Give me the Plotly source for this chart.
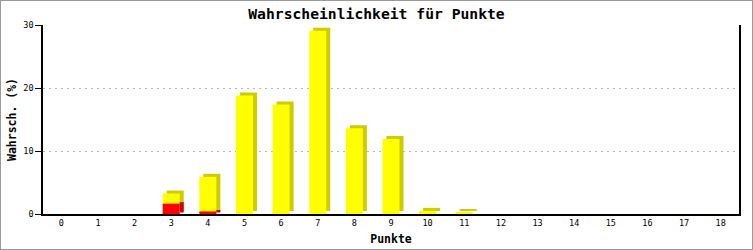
import plotly.graph_objects as go

points = list(range(19))
tick_labels = [str(p) for p in points]
total_pct = [0, 0, 0, 3.25, 5.9, 18.8, 17.4, 29.1, 13.6, 11.9, 0.5, 0.3, 0, 0, 0, 0, 0, 0, 0]
red_pct = [0, 0, 0, 1.65, 0.4, 0, 0, 0, 0, 0, 0, 0, 0, 0, 0, 0, 0, 0, 0]
y_ticks = [0, 10, 20, 30]

W, H = 753, 250
ml, mr, mt, mb = 43, 14, 25, 36
plot_w = W - ml - mr
plot_h = H - mt - mb
x_unit = plot_w / 19.0
y_unit = plot_h / 30.0
bar_w = 17 / x_unit
dx = 4 / x_unit
dy = 3 / y_unit


def nz(vals):
    return [v if v > 0 else None for v in vals]


fig = go.Figure()
# yellow: shadow block (top + side faces) then front
fig.add_trace(go.Bar(x=points, y=nz(total_pct), base=dy, width=bar_w, offset=-bar_w / 2 + dx,
                     marker=dict(color="#cccc00", line=dict(width=0)), showlegend=False,
                     hoverinfo="skip"))
fig.add_trace(go.Bar(x=points, y=nz(total_pct), width=bar_w, offset=-bar_w / 2,
                     marker=dict(color="#ffff00", line=dict(width=0)), showlegend=False))
# red: side face strip then front
fig.add_trace(go.Bar(x=points, y=nz(red_pct), base=dy / 2, width=dx, offset=bar_w / 2,
                     marker=dict(color="#cc0000", line=dict(width=0)), showlegend=False,
                     hoverinfo="skip"))
fig.add_trace(go.Bar(x=points, y=nz(red_pct), width=bar_w, offset=-bar_w / 2,
                     marker=dict(color="#ff0000", line=dict(width=0)), showlegend=False))

mono = "DejaVu Sans Mono"
fig.update_layout(
    width=W, height=H,
    margin=dict(l=ml, r=mr, t=mt, b=mb, autoexpand=False),
    paper_bgcolor="white", plot_bgcolor="white",
    barmode="overlay",
    title=dict(text="<b>Wahrscheinlichkeit für Punkte</b>", x=0.5, xanchor="center",
               y=1 - 13.5 / H, yanchor="middle", font=dict(family=mono, size=14.7, color="black")),
    xaxis=dict(range=[-0.5, 18.5], tickmode="array", tickvals=points, ticktext=tick_labels,
               showgrid=False, zeroline=False, showline=True, linecolor="black", linewidth=1.5,
               ticks="", automargin=False, tickfont=dict(family=mono, size=8.5, color="black"),
               title=dict(text="<b>Punkte</b>", font=dict(family=mono, size=11.5, color="black"),
                          standoff=8)),
    yaxis=dict(range=[0, 30], tickmode="array", tickvals=y_ticks, showgrid=True,
               gridcolor="#b8b8b8", griddash="2px,4px", gridwidth=1,
               zeroline=False, showline=True, mirror=True, linecolor="black", linewidth=1.5,
               ticks="outside", ticklen=6, tickcolor="black", tickwidth=1, automargin=False,
               tickfont=dict(family=mono, size=8.5, color="black"),
               title=dict(text="<b>Wahrsch. (%)</b>", font=dict(family=mono, size=11.5, color="black"),
                          standoff=4)),
    shapes=[dict(type="rect", xref="paper", yref="paper", x0=-ml / plot_w, x1=1 + mr / plot_w,
                 y0=-mb / plot_h, y1=1 + mt / plot_h, line=dict(color="#999999", width=2),
                 fillcolor="rgba(0,0,0,0)", layer="above")],
)
fig.write_html("out.html")
